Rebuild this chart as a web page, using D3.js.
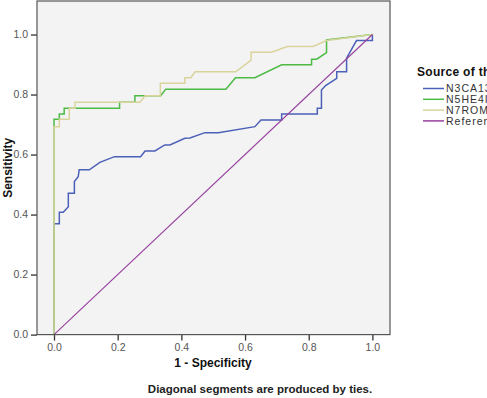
<!DOCTYPE html>
<html>
<head>
<meta charset="utf-8">
<script src="https://cdn.jsdelivr.net/npm/d3@7"></script>
<style>
  body { margin: 0; background: #fff; }
  svg { display: block; font-family: Arial, "Liberation Sans", sans-serif; }
</style>
</head>
<body>
<div id="chart"></div>
<script>
// ROC curves (1 - specificity, sensitivity)
const seriesNames = ["N3CA13", "N5HE4III", "N7ROMAN", "Reference Line"];
const seriesColors = ["#4b60b8", "#4cba45", "#d9d49c", "#96409e"];

const n3X = [0, 0, 0.0167, 0.0167, 0.029, 0.045, 0.045, 0.064, 0.064, 0.076, 0.079, 0.111, 0.144, 0.19, 0.272, 0.286, 0.317, 0.348, 0.364, 0.411, 0.427, 0.474, 0.516, 0.631, 0.65, 0.715, 0.715, 0.827, 0.827, 0.84, 0.84, 0.853, 0.888, 0.888, 0.919, 0.919, 0.95, 1, 1];
const n3Y = [0, 0.369, 0.369, 0.408, 0.408, 0.426, 0.471, 0.471, 0.51, 0.526, 0.549, 0.549, 0.574, 0.593, 0.593, 0.612, 0.612, 0.632, 0.632, 0.654, 0.655, 0.673, 0.673, 0.693, 0.715, 0.715, 0.735, 0.735, 0.754, 0.754, 0.815, 0.83, 0.854, 0.876, 0.876, 0.921, 0.98, 0.98, 1];

const n5X = [0, 0, 0.0167, 0.0167, 0.032, 0.032, 0.206, 0.206, 0.254, 0.254, 0.335, 0.351, 0.54, 0.57, 0.631, 0.715, 0.809, 0.809, 0.825, 0.856, 0.856, 1];
const n5Y = [0, 0.718, 0.718, 0.735, 0.735, 0.754, 0.754, 0.774, 0.774, 0.796, 0.796, 0.818, 0.818, 0.856, 0.856, 0.899, 0.899, 0.918, 0.918, 0.94, 0.982, 1];

const n7X = [0, 0, 0.0167, 0.0167, 0.048, 0.048, 0.066, 0.066, 0.27, 0.286, 0.334, 0.334, 0.411, 0.411, 0.43, 0.443, 0.571, 0.619, 0.619, 0.683, 0.733, 0.814, 0.856, 1];
const n7Y = [0, 0.693, 0.693, 0.718, 0.718, 0.754, 0.754, 0.774, 0.774, 0.796, 0.796, 0.838, 0.838, 0.856, 0.856, 0.876, 0.876, 0.915, 0.941, 0.941, 0.96, 0.96, 0.98, 1];

const refX = [0, 1];
const refY = [0, 1];

const tickValues = [0, 0.2, 0.4, 0.6, 0.8, 1.0];

const width = 487, height = 398;

const svg = d3.select("#chart").append("svg")
    .attr("width", width)
    .attr("height", height);

const x = d3.scaleLinear().domain([-0.0534, 1.0553]).range([37, 390]);
const y = d3.scaleLinear().domain([0, 1.1117]).range([334.6, 1]);

// plot background
svg.append("rect")
    .attr("x", x.range()[0])
    .attr("y", y.range()[1])
    .attr("width", x.range()[1] - x.range()[0])
    .attr("height", y.range()[0] - y.range()[1])
    .attr("fill", "#f3f3f3");

// axes
const yAxis = svg.append("g")
    .attr("transform", `translate(${x.range()[0]},0)`)
    .call(d3.axisLeft(y).tickValues(tickValues).tickFormat(d3.format(".1f")).tickSize(6).tickPadding(3));
const xAxis = svg.append("g")
    .attr("transform", `translate(0,${y.range()[0]})`)
    .call(d3.axisBottom(x).tickValues(tickValues).tickFormat(d3.format(".1f")).tickSize(6).tickPadding(3));

[xAxis, yAxis].forEach(function(g) {
    g.select(".domain").remove();
    g.selectAll(".tick line").attr("stroke", "#333").attr("stroke-width", 1.3);
    g.selectAll(".tick text").attr("fill", "#555").style("font-size", "10.5px");
});

// curves
const line = d3.line()
    .x(function(d) { return x(d[0]); })
    .y(function(d) { return y(d[1]); });

const curves = [
    d3.zip(n3X, n3Y),
    d3.zip(n5X, n5Y),
    d3.zip(n7X, n7Y),
    d3.zip(refX, refY)
];

svg.append("g")
    .selectAll("path")
    .data(curves)
    .enter()
    .append("path")
    .attr("d", line)
    .attr("fill", "none")
    .attr("stroke", function(d, i) { return seriesColors[i]; })
    .attr("stroke-width", function(d, i) { return i === 3 ? 1.1 : 1.5; })
    .attr("stroke-linejoin", "miter");

// frame
svg.append("rect")
    .attr("x", x.range()[0])
    .attr("y", y.range()[1])
    .attr("width", x.range()[1] - x.range()[0])
    .attr("height", y.range()[0] - y.range()[1])
    .attr("fill", "none")
    .attr("stroke", "#555")
    .attr("stroke-width", 1.2);

// axis titles
svg.append("text")
    .attr("transform", `translate(12,${(y.range()[0] + y.range()[1]) / 2}) rotate(-90)`)
    .attr("text-anchor", "middle")
    .style("font-size", "12px")
    .style("font-weight", "bold")
    .attr("fill", "#111")
    .text("Sensitivity");

svg.append("text")
    .attr("x", 213)
    .attr("y", 367)
    .attr("text-anchor", "middle")
    .style("font-size", "12px")
    .style("font-weight", "bold")
    .attr("fill", "#111")
    .text("1 - Specificity");

svg.append("text")
    .attr("x", 260)
    .attr("y", 393)
    .attr("text-anchor", "middle")
    .style("font-size", "11.5px")
    .style("font-weight", "bold")
    .attr("fill", "#222")
    .text("Diagonal segments are produced by ties.");

// legend (runs off the right edge, as in the original picture)
const legend = svg.append("g");
legend.append("text")
    .attr("x", 417)
    .attr("y", 76)
    .style("font-size", "12px")
    .style("font-weight", "bold")
    .style("letter-spacing", "0.3px")
    .attr("fill", "#111")
    .text("Source of the Curve");

const rows = legend.selectAll("g.row")
    .data(seriesNames)
    .enter()
    .append("g")
    .attr("class", "row")
    .attr("transform", function(d, i) { return `translate(0,${88.5 + i * 10.8})`; });

rows.append("line")
    .attr("x1", 423).attr("x2", 444)
    .attr("stroke", function(d, i) { return seriesColors[i]; })
    .attr("stroke-width", 1.5);

rows.append("text")
    .attr("x", 446)
    .attr("dy", "0.35em")
    .style("font-size", "10.5px")
    .style("letter-spacing", "1px")
    .attr("fill", "#333")
    .text(function(d) { return d; });
</script>
</body>
</html>
